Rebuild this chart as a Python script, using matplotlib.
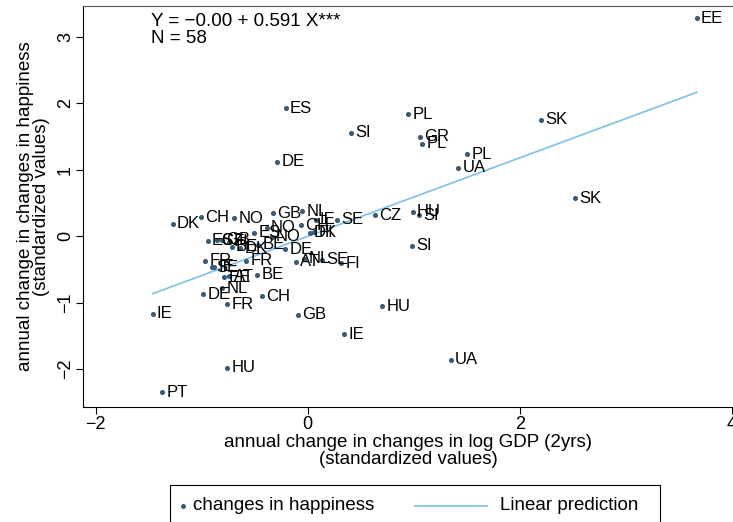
import numpy as np
import matplotlib
matplotlib.use('Agg')
import matplotlib.pyplot as plt
from matplotlib.lines import Line2D
from matplotlib.patches import Rectangle

plt.rcParams['font.family'] = ['Liberation Sans', 'DejaVu Sans']

# country labels and standardized values
countries = ['EE', 'ES', 'PL', 'SI', 'GR', 'PL', 'SK', 'PL', 'UA', 'DE',
             'SK', 'HU', 'SI', 'CZ', 'SE', 'SI', 'HU', 'IE', 'DE', 'FR',
             'CH', 'GB', 'IE', 'UA', 'HU', 'PT', 'NL', 'DK', 'CH', 'NO',
             'GB', 'NL', 'IE', 'CH', 'DK', 'FI', 'ES', 'NO', 'NO', 'BE',
             'DE', 'ES', 'GB', 'FI', 'BE', 'DK', 'FR', 'SE', 'IE', 'FR',
             'AT', 'NL', 'SE', 'FI', 'EE', 'AT', 'BE', 'CZ']
gdp = [3.67, -0.21, 0.946, 0.405, 1.062, 1.081, 2.204, 1.503, 1.421, -0.29,
       2.519, 0.99, 1.047, 0.638, 0.279, 0.985, 0.704, -1.462, -0.985, -0.758,
       -0.434, -0.092, 0.345, 1.349, -0.761, -1.375, -0.805, -1.274, -1.01, -0.692,
       -0.325, -0.054, 0.075, -0.06, 0.02, 0.06, -0.504, -0.387, -0.34, -0.466,
       -0.214, -0.943, -0.806, -0.74, -0.717, -0.639, -0.969, -0.906, -0.884, -0.582,
       -0.113, -0.035, 0.132, 0.314, -0.787, -0.74, -0.475, -0.86]
happy = [3.28, 1.93, 1.84, 1.556, 1.50, 1.39, 1.756, 1.235, 1.029, 1.12,
         0.572, 0.366, 0.316, 0.316, 0.25, -0.146, -1.05, -1.17, -0.873, -1.024,
         -0.904, -1.185, -1.476, -1.863, -1.979, -2.35, -0.783, 0.19, 0.286, 0.271,
         0.346, 0.376, 0.25, 0.166, 0.05, 0.06, 0.054, 0.13, -0.006, -0.13,
         -0.196, -0.066, -0.05, -0.08, -0.157, -0.181, -0.372, -0.467, -0.458, -0.367,
         -0.382, -0.342, -0.357, -0.407, -0.62, -0.60, -0.583, -0.06]

intercept = 0.0
slope = 0.591
n_obs = 58

dot_color = '#3b5a75'
line_color = '#7fbfe6'

W, H = 733, 522
fig = plt.figure(figsize=(W / 100, H / 100), dpi=100)
ax = fig.add_axes([0.1132, 0.2203, 0.8868, 0.7682])

ax.scatter(gdp, happy, s=7, color=dot_color, zorder=3)
for c, x, y in zip(countries, gdp, happy):
    ax.annotate(c, (x, y), xytext=(3, 0), textcoords='offset points',
                va='center', ha='left', fontsize=12, color='black')

xs = np.array([min(gdp), max(gdp)])
ax.plot(xs, intercept + slope * xs, color=line_color, lw=1.2, zorder=2)

ax.text(0.105, 0.982, 'Y = \u22120.00 + 0.591 X***\nN = %d' % n_obs,
        transform=ax.transAxes, fontsize=13.5, va='top', ha='left',
        linespacing=0.95)

ax.set_xlim(-2.12, 4.01)
ax.set_ylim(-2.571, 3.468)
ax.set_xticks([-2, 0, 2, 4])
ax.set_yticks([-2, -1, 0, 1, 2, 3])
ax.tick_params(labelsize=13, length=5, width=0.8, direction='out', pad=1.5)
for lab in ax.get_yticklabels():
    lab.set_rotation(90)
    lab.set_va('center')
ax.spines['right'].set_visible(False)
ax.spines['top'].set_color('#555555')

ax.set_xlabel('annual change in changes in log GDP (2yrs)\n(standardized values)',
              fontsize=13.5, linespacing=0.95, labelpad=1)
ax.set_ylabel('annual change in changes in happiness\n(standardized values)',
              fontsize=13.5, linespacing=0.95, labelpad=5)

# legend drawn in figure pixels, Stata style
def fx(px):
    return px / W

def fy(py):
    return 1 - py / H

fig.patches.append(Rectangle((fx(170), fy(530)), fx(660) - fx(170), fy(485) - fy(530),
                             transform=fig.transFigure, fill=False,
                             edgecolor='black', lw=0.8))
fig.lines.append(Line2D([fx(183)], [fy(506)], marker='o', ls='none',
                        markersize=2.6, color=dot_color, transform=fig.transFigure))
fig.text(fx(193), fy(506), 'changes in happiness', fontsize=13.5,
         va='center', ha='left')
fig.lines.append(Line2D([fx(415), fx(487)], [fy(506), fy(506)], lw=1.2,
                        color=line_color, transform=fig.transFigure))
fig.text(fx(500), fy(506), 'Linear prediction', fontsize=13.5,
         va='center', ha='left')

fig.savefig('out.png', dpi=100)
